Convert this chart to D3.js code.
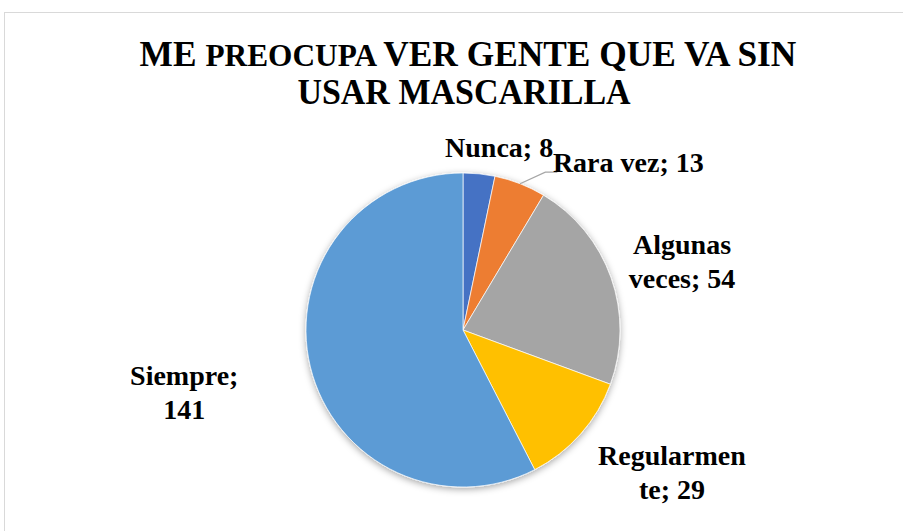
<!DOCTYPE html>
<html>
<head>
<meta charset="utf-8">
<script src="https://cdn.jsdelivr.net/npm/d3@7"></script>
<style>
  html, body { margin: 0; padding: 0; background: #fff; }
  svg { display: block; }
  svg text { font-family: 'Liberation Serif'; font-weight: bold; }
</style>
</head>
<body>
<svg id="chart" width="903" height="531"></svg>
<script>
// ── Data ────────────────────────────────────────────────
const categories = ['Nunca', 'Rara vez', 'Algunas veces', 'Regularmente', 'Siempre'];
const values     = [8, 13, 54, 29, 141];
// label text as Excel wrapped it
const labelLines = [
  ['Nunca; 8'],
  ['Rara vez; 13'],
  ['Algunas', 'veces; 54'],
  ['Regularmen', 'te; 29'],
  ['Siempre;', '141']
];
const colors = ['#4472C4', '#ED7D31', '#A5A5A5', '#FFC000', '#5B9BD5'];

// ── Layout ──────────────────────────────────────────────
const W = 903, H = 531;
const cx = 463, cy = 330, R = 157;
const labelR = R * 1.25;
// nudge of each label block from the label-arc centroid
const labelNudge = [[16, 12], [94, 15], [34, -3], [62, 12], [-88, 16]];
const FS = 28, LH = 34;

const svg = d3.select('#chart');

// chart area border
svg.append('rect')
  .attr('x', 4.5).attr('y', 12.5)
  .attr('width', W + 10).attr('height', H + 10)
  .attr('fill', 'none')
  .attr('stroke', '#d9d9d9');

// soft shadow under the pie
const defs = svg.append('defs');
defs.append('filter')
  .attr('id', 'shadow')
  .attr('x', '-20%').attr('y', '-20%').attr('width', '140%').attr('height', '140%')
  .append('feDropShadow')
  .attr('dx', 0).attr('dy', 2)
  .attr('stdDeviation', 3.5)
  .attr('flood-color', '#000')
  .attr('flood-opacity', 0.35);

// ── Title ───────────────────────────────────────────────
function fitX(sel, centerX, targetW) {
  const w = sel.node().getBBox().width;
  sel.attr('transform', `translate(${centerX},0) scale(${targetW / w},1)`);
}

const t1 = svg.append('text').attr('y', 66).attr('text-anchor', 'middle')
  .attr('font-family', 'Liberation Serif').attr('font-weight', 'bold');
t1.append('tspan').attr('font-size', 35).text('ME ');
t1.append('tspan').attr('font-size', 31).text('PREOCUPA ');
t1.append('tspan').attr('font-size', 35).text('VER GENTE QUE VA SIN');
fitX(t1, 468, 657);

const t2 = svg.append('text').attr('y', 104).attr('text-anchor', 'middle')
  .attr('font-family', 'Liberation Serif').attr('font-weight', 'bold')
  .attr('font-size', 35).text('USAR MASCARILLA');
fitX(t2, 464, 334);

// ── Pie ─────────────────────────────────────────────────
const data = categories.map((c, i) => ({ cat: c, value: values[i], lines: labelLines[i], color: colors[i] }));

const pie = d3.pie().value(d => d.value).sort(null);
const arcs = pie(data);
const arc = d3.arc().innerRadius(0).outerRadius(R);
const labelArc = d3.arc().innerRadius(labelR).outerRadius(labelR);
const edgeArc = d3.arc().innerRadius(R).outerRadius(R);

const g = svg.append('g').attr('transform', `translate(${cx},${cy})`);

g.append('g').attr('filter', 'url(#shadow)')
  .selectAll('path')
  .data(arcs).join('path')
  .attr('d', arc)
  .attr('fill', d => d.data.color)
  .attr('stroke', '#fff')
  .attr('stroke-width', 0.7);

// leader line for "Rara vez" (label pulled away from its slice)
const rv = arcs[1];
const p0 = edgeArc.centroid(rv);
const lc = labelArc.centroid(rv);
const lx = lc[0] + labelNudge[1][0] - 71, ly = lc[1] + labelNudge[1][1] + 10;
g.append('polyline')
  .attr('points', [[p0[0], p0[1]], [lx - 12, ly], [lx, ly]].map(p => p.join(',')).join(' '))
  .attr('fill', 'none')
  .attr('stroke', '#a6a6a6')
  .attr('stroke-width', 1.3);

// ── Data labels ─────────────────────────────────────────
const lbl = g.selectAll('text.lbl')
  .data(arcs).join('text')
  .attr('class', 'lbl')
  .attr('text-anchor', 'middle')
  .attr('font-family', 'Liberation Serif')
  .attr('font-weight', 'bold')
  .attr('font-size', FS)
  .attr('transform', (d, i) => {
    const c = labelArc.centroid(d);
    return `translate(${c[0] + labelNudge[i][0]},${c[1] + labelNudge[i][1]})`;
  });

lbl.each(function (d) {
  const n = d.data.lines.length;
  d3.select(this).selectAll('tspan')
    .data(d.data.lines).join('tspan')
    .attr('x', 0)
    .attr('y', (s, k) => (k - (n - 1) / 2) * LH + FS * 0.35)
    .text(s => s);
});
</script>
</body>
</html>
